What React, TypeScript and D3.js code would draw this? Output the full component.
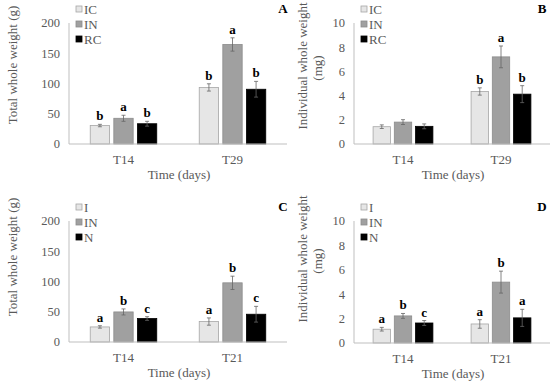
import * as d3 from "d3";

const groupsTop = ["T14", "T29"];
const groupsBottom = ["T14", "T21"];
const seriesTop = ["IC", "IN", "RC"];
const seriesBottom = ["I", "IN", "N"];

// values per group, one entry per series
const aValues = [[30.5, 42.5, 33.5], [93.5, 164.5, 90.5]];
const aErrors = [[2, 5, 4], [6, 11, 13]];
const aLetters = [["b", "a", "b"], ["b", "a", "b"]];

const bValues = [[1.43, 1.81, 1.46], [4.34, 7.2, 4.12]];
const bErrors = [[0.15, 0.2, 0.2], [0.3, 0.9, 0.7]];
const bLetters = [["", "", ""], ["b", "a", "b"]];

const cValues = [[24.9, 49.7, 38.8], [33.8, 97.8, 45.9]];
const cErrors = [[2, 5, 3], [6, 11, 13]];
const cLetters = [["a", "b", "c"], ["a", "b", "c"]];

const dValues = [[1.13, 2.22, 1.64], [1.56, 4.99, 2.06]];
const dErrors = [[0.15, 0.2, 0.2], [0.35, 0.9, 0.7]];
const dLetters = [["a", "b", "c"], ["a", "b", "a"]];

const ticksTotal = [0, 50, 100, 150, 200];
const ticksIndividual = [0, 2, 4, 6, 8, 10];

const fills = ["#e6e6e6", "#a0a0a0", "#000000"];
const strokes = ["#a6a6a6", "#8c8c8c", "#000000"];
const font = "Times New Roman, Liberation Serif, Times, serif";
const gray = "#595959";

type PanelProps = {
  tag: string;
  groups: string[];
  series: string[];
  values: number[][];
  errors: number[][];
  letters: string[][];
  ticks: number[];
  yLabel: string[];
  left: number;
  right: number;
  top: number;
  bottom: number;
  labelX: number;
  labelY: number;
  tagX: number;
};

function Panel(p: PanelProps) {
  const x = d3.scaleBand().domain(p.groups).range([p.left, p.right]).padding(0);
  const inner = d3
    .scaleBand()
    .domain(p.series)
    .range([0, x.bandwidth()])
    .paddingInner(0.18)
    .paddingOuter(0.9);
  const y = d3
    .scaleLinear()
    .domain([0, d3.max(p.ticks) as number])
    .range([p.bottom, p.top]);

  return (
    <g style={{ fontFamily: font }}>
      {/* panel tag */}
      <text x={p.tagX} y={p.top - 10} fontSize={13} fontWeight="bold" textAnchor="middle">
        {p.tag}
      </text>

      {/* y axis label */}
      {p.yLabel.map((line, i) => (
        <text
          key={i}
          transform={`translate(${p.labelX + i * 15},${p.labelY + i * 2}) rotate(-90)`}
          fontSize={13}
          fill={gray}
          textAnchor="middle"
        >
          {line}
        </text>
      ))}

      {/* y ticks */}
      {p.ticks.map((t) => (
        <text key={t} x={p.left - 9} y={y(t)} dy="0.35em" fontSize={12.5} fill={gray} textAnchor="end">
          {t}
        </text>
      ))}
      <line x1={p.left} x2={p.left} y1={p.top} y2={p.bottom} stroke="#bfbfbf" />

      {/* bars */}
      {p.groups.map((g, gi) => (
        <g key={g}>
          {p.series.map((s, si) => {
            const x0 = (x(g) as number) + (inner(s) as number);
            const w = inner.bandwidth();
            const v = p.values[gi][si];
            const e = p.errors[gi][si];
            const cx = x0 + w / 2;
            return (
              <g key={s}>
                <rect
                  x={x0}
                  y={y(v)}
                  width={w}
                  height={p.bottom - y(v)}
                  fill={fills[si]}
                  stroke={strokes[si]}
                  strokeWidth={0.8}
                />
                <line x1={cx} x2={cx} y1={y(v + e)} y2={y(v - e)} stroke="#666" strokeWidth={0.8} />
                <line x1={cx - 2} x2={cx + 2} y1={y(v + e)} y2={y(v + e)} stroke="#666" strokeWidth={0.8} />
                <line x1={cx - 2} x2={cx + 2} y1={y(v - e)} y2={y(v - e)} stroke="#666" strokeWidth={0.8} />
                {p.letters[gi][si] && (
                  <text x={cx} y={y(v + e) - 4} fontSize={13} fontWeight="bold" textAnchor="middle">
                    {p.letters[gi][si]}
                  </text>
                )}
              </g>
            );
          })}
          <text
            x={(x(g) as number) + x.bandwidth() / 2}
            y={p.bottom + 20}
            fontSize={13}
            fill={gray}
            textAnchor="middle"
          >
            {g}
          </text>
        </g>
      ))}

      {/* x axis */}
      <line x1={p.left} x2={p.right} y1={p.bottom} y2={p.bottom} stroke="#bfbfbf" />
      <text x={(p.left + p.right) / 2 + 1} y={p.bottom + 35} fontSize={13} fill={gray} textAnchor="middle">
        Time (days)
      </text>

      {/* legend */}
      {p.series.map((s, si) => (
        <g key={s} transform={`translate(${p.left + 7},${p.top - 14 + si * 15})`}>
          <rect x={0} y={-3} width={6} height={6} fill={fills[si]} stroke={strokes[si]} strokeWidth={0.8} />
          <text x={8} y={0} dy="0.35em" fontSize={13} fill={gray}>
            {s}
          </text>
        </g>
      ))}
    </g>
  );
}

export default function App() {
  return (
    <svg
      width={550}
      height={383}
      style={{ position: "absolute", left: 0, top: 0, background: "#fff" }}
    >
      <Panel
        tag="A"
        groups={groupsTop}
        series={seriesTop}
        values={aValues}
        errors={aErrors}
        letters={aLetters}
        ticks={ticksTotal}
        yLabel={["Total whole weight (g)"]}
        left={69}
        right={287}
        top={23}
        bottom={144}
        labelX={17}
        labelY={65}
        tagX={283}
      />
      <Panel
        tag="B"
        groups={groupsTop}
        series={seriesTop}
        values={bValues}
        errors={bErrors}
        letters={bLetters}
        ticks={ticksIndividual}
        yLabel={["Individual whole weight", "(mg)"]}
        left={354}
        right={550}
        top={23}
        bottom={144}
        labelX={307}
        labelY={66}
        tagX={542}
      />
      <Panel
        tag="C"
        groups={groupsBottom}
        series={seriesBottom}
        values={cValues}
        errors={cErrors}
        letters={cLetters}
        ticks={ticksTotal}
        yLabel={["Total whole weight (g)"]}
        left={69}
        right={287}
        top={221}
        bottom={342}
        labelX={17}
        labelY={257}
        tagX={283}
      />
      <Panel
        tag="D"
        groups={groupsBottom}
        series={seriesBottom}
        values={dValues}
        errors={dErrors}
        letters={dLetters}
        ticks={ticksIndividual}
        yLabel={["Individual whole weight", "(mg)"]}
        left={354}
        right={550}
        top={221}
        bottom={343}
        labelX={307}
        labelY={259}
        tagX={542}
      />
    </svg>
  );
}
